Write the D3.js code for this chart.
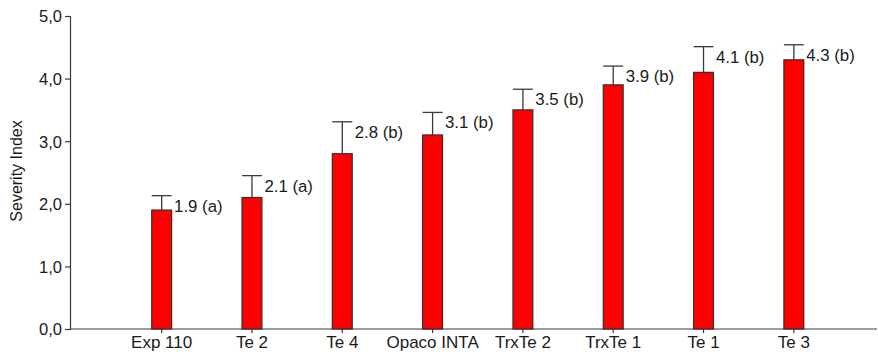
<!DOCTYPE html>
<html>
<head>
<meta charset="utf-8">
<script src="https://cdn.jsdelivr.net/npm/d3@7"></script>
<style>
  html, body { margin: 0; padding: 0; background: #fff; }
  svg { display: block; font-family: "Liberation Sans", Arial, sans-serif; }
</style>
</head>
<body>
<svg id="chart" width="878" height="352"></svg>
<script>
// Severity index per genotype, with upper error and significance group
const categories = ["Exp 110", "Te 2", "Te 4", "Opaco INTA", "TrxTe 2", "TrxTe 1", "Te 1", "Te 3"];
const severity   = [1.9, 2.1, 2.8, 3.1, 3.5, 3.9, 4.1, 4.3];
const errorUp    = [0.23, 0.35, 0.51, 0.36, 0.33, 0.30, 0.41, 0.24];
const groups     = ["a", "a", "b", "b", "b", "b", "b", "b"];
const yTicks     = [0, 1, 2, 3, 4, 5];
const yTitle     = "Severity Index";

const rows = categories.map((c, i) => ({ cat: c, v: severity[i], e: errorUp[i], g: groups[i] }));

const svg = d3.select("#chart");
const axisColor = "#3a3a3a";
const textColor = "#1a1a1a";

const x = d3.scaleBand()
  .domain(categories)
  .range([116.5, 839])
  .paddingInner(0.78)
  .paddingOuter(0.39);

const y = d3.scaleLinear().domain([0, 5]).range([329, 16]);

const fmt = d3.format(".1f");

// Y axis
const yAxis = svg.append("g")
  .attr("transform", "translate(70,0)")
  .call(d3.axisLeft(y).tickValues(yTicks).tickSize(5).tickPadding(3)
    .tickFormat(d => fmt(d).replace(".", ",")));
yAxis.select(".domain").attr("stroke", axisColor).attr("stroke-width", 1.2);
yAxis.selectAll(".tick line").attr("stroke", axisColor).attr("stroke-width", 1.2);
yAxis.selectAll(".tick text")
  .attr("fill", textColor)
  .style("font-size", "16.5px")
  .attr("dy", "0.36em");

// X axis
const xAxis = svg.append("g")
  .attr("transform", "translate(0,329)");
xAxis.append("line")
  .attr("x1", 70).attr("x2", 877)
  .attr("stroke", axisColor).attr("stroke-width", 1.2);
const xa = xAxis.append("g")
  .call(d3.axisBottom(x).tickSize(4).tickPadding(0).tickSizeOuter(0));
xa.select(".domain").remove();
xa.selectAll(".tick line").attr("stroke", axisColor).attr("stroke-width", 1.2);
xa.selectAll(".tick text")
  .attr("fill", textColor)
  .style("font-size", "17px")
  .attr("dy", null)
  .attr("y", 18.5);

// Y title
svg.append("text")
  .attr("transform", "translate(22,171) rotate(-90)")
  .attr("text-anchor", "middle")
  .attr("fill", textColor)
  .style("font-size", "16px")
  .text(yTitle);

// Bars
svg.append("g").selectAll("rect")
  .data(rows)
  .join("rect")
  .attr("x", d => x(d.cat))
  .attr("y", d => y(d.v))
  .attr("width", x.bandwidth())
  .attr("height", d => y(0) - y(d.v))
  .attr("fill", "#ff0000")
  .attr("stroke", "#3a2a2a")
  .attr("stroke-width", 1.2);

// Error bars (upper only)
const eb = svg.append("g").attr("stroke", axisColor).attr("stroke-width", 1.3);
rows.forEach(d => {
  const cx = x(d.cat) + x.bandwidth() / 2;
  const half = x.bandwidth() / 2;
  eb.append("line")
    .attr("x1", cx).attr("x2", cx)
    .attr("y1", y(d.v)).attr("y2", y(d.v + d.e));
  eb.append("line")
    .attr("x1", cx - half).attr("x2", cx + half)
    .attr("y1", y(d.v + d.e)).attr("y2", y(d.v + d.e));
});

// Value labels with group letters
svg.append("g").selectAll("text")
  .data(rows)
  .join("text")
  .attr("x", d => x(d.cat) + x.bandwidth() + 2.5)
  .attr("y", d => y(d.v + d.e) + 16)
  .attr("fill", textColor)
  .style("font-size", "16.8px")
  .text(d => `${fmt(d.v)} (${d.g})`);
</script>
</body>
</html>
